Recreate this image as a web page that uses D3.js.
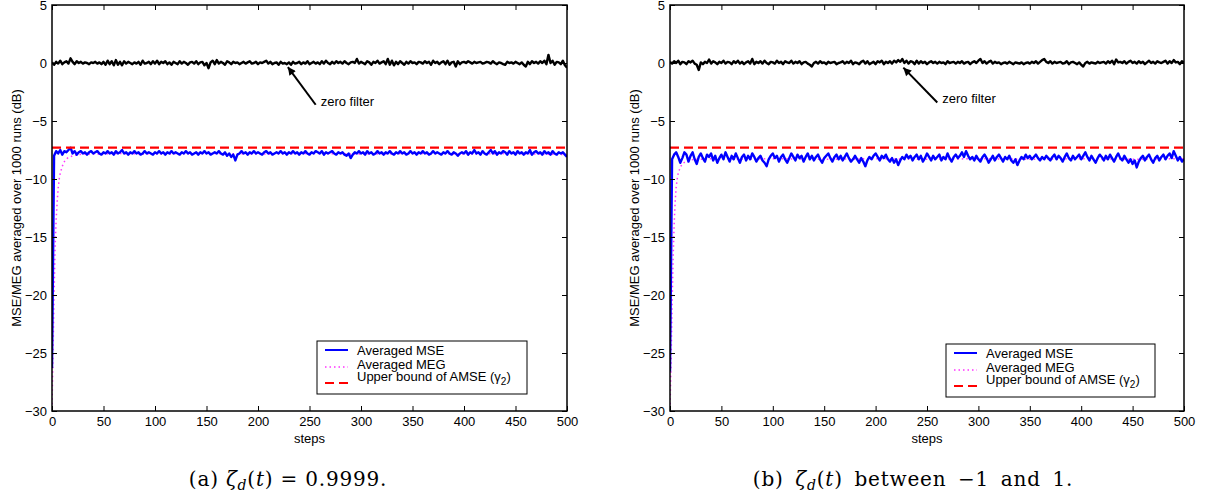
<!DOCTYPE html>
<html>
<head>
<meta charset="utf-8">
<script src="https://cdnjs.cloudflare.com/ajax/libs/d3/7.8.5/d3.min.js"></script>
<style>
body{margin:0;background:#fff;}
svg text{font-family:"Liberation Sans",Arial,sans-serif;}
</style>
</head>
<body>
<svg id="chart"></svg>
<script>
var sampleSteps = d3.range(0, 501, 2);
var megSteps = [0,1,2,3,4,5,6,7,8,10,12,15,20,25,30,40,60,100,150,200,250,300,350,400,450,500];

var xTicks = [0,50,100,150,200,250,300,350,400,450,500];
var yTicks = [-30,-25,-20,-15,-10,-5,0,5];

// (a) zeta = 0.9999
var zeroA = [0.05,-0.15,0.1,-0.05,0.2,-0.1,0.05,0.15,-0.05,0.4,
  0.1,-0.1,0.15,0.0,0.1,-0.05,0.05,0.0,-0.1,0.05,
  0.0,0.1,-0.05,0.05,-0.1,0.1,-0.15,0.2,-0.1,0.15,
  -0.2,0.25,-0.15,0.1,-0.2,0.15,-0.05,0.1,0.0,-0.1,
  0.05,-0.05,0.1,-0.15,0.2,-0.05,0.0,0.1,-0.1,0.15,
  -0.05,0.2,-0.1,0.1,0.0,0.15,-0.1,0.05,-0.15,0.1,
  0.0,-0.1,0.15,-0.05,0.1,0.0,-0.15,0.05,0.1,-0.05,
  0.15,-0.1,0.05,0.1,-0.2,0.0,-0.45,0.05,0.2,-0.1,
  0.25,-0.05,0.1,0.0,-0.15,0.15,0.05,-0.1,0.1,0.0,
  0.05,-0.1,0.0,0.1,-0.05,0.05,0.15,-0.05,0.0,0.1,
  -0.1,0.05,0.0,0.1,0.2,-0.05,0.1,-0.1,0.0,0.05,
  -0.15,0.1,-0.05,0.0,-0.1,0.05,-0.15,0.1,-0.05,0.0,
  0.1,-0.1,0.05,-0.05,0.15,-0.1,0.0,0.1,-0.05,0.05,
  -0.1,0.15,-0.05,0.2,0.0,-0.1,0.1,-0.05,0.15,0.0,
  0.1,-0.05,0.15,0.0,-0.1,0.05,0.1,0.0,0.35,-0.05,
  0.1,0.0,-0.1,0.15,0.05,-0.15,0.1,0.0,0.2,-0.05,
  0.05,0.15,-0.1,0.35,-0.15,0.2,-0.2,0.1,-0.1,0.15,
  0.0,-0.15,0.1,-0.05,0.15,0.0,0.05,-0.1,0.1,0.05,
  -0.05,0.15,0.0,0.1,-0.15,0.2,0.0,0.1,-0.1,0.05,
  0.15,-0.1,0.2,-0.15,0.05,0.1,-0.3,0.15,-0.1,0.05,
  0.1,0.0,0.15,0.05,-0.05,0.1,0.0,0.05,0.1,-0.05,
  0.0,0.1,0.05,-0.05,0.15,0.0,-0.1,0.05,0.0,-0.1,
  -0.15,0.1,0.0,0.05,-0.05,0.1,0.0,-0.1,0.05,-0.15,
  -0.3,0.1,-0.1,0.15,0.0,0.1,-0.05,0.15,0.0,0.2,
  -0.1,0.7,0.0,0.2,-0.15,0.1,0.05,-0.1,0.2,-0.2,
  -0.4];
var mseA = [-26.3,-8.0,-7.6,-7.8,-7.5,-7.9,-7.6,-7.7,-7.5,-7.3,
  -7.8,-7.6,-7.9,-7.7,-7.6,-7.8,-7.7,-7.9,-7.7,-7.6,
  -7.8,-7.7,-7.6,-7.8,-7.9,-7.7,-7.8,-7.6,-7.8,-7.7,
  -7.9,-7.6,-7.8,-7.7,-7.5,-7.8,-7.7,-7.9,-7.7,-7.8,
  -7.6,-7.8,-7.7,-7.9,-7.8,-7.6,-7.8,-7.7,-7.8,-7.9,
  -7.7,-7.8,-7.6,-7.8,-7.7,-7.9,-7.7,-7.8,-7.6,-7.8,
  -7.7,-7.8,-7.9,-7.7,-7.8,-7.6,-7.8,-7.7,-7.9,-7.8,
  -7.7,-7.9,-7.7,-7.8,-7.6,-7.8,-7.7,-7.9,-7.8,-7.7,
  -7.8,-7.6,-7.8,-7.9,-7.7,-8.0,-7.8,-8.1,-7.9,-8.4,
  -7.9,-7.8,-7.6,-7.8,-7.7,-7.9,-7.7,-7.8,-7.6,-7.8,
  -7.7,-7.8,-7.9,-7.7,-7.6,-7.8,-7.7,-7.9,-7.8,-7.7,
  -7.8,-7.6,-7.8,-7.7,-7.9,-7.7,-7.8,-7.6,-7.8,-7.7,
  -7.9,-7.7,-7.8,-7.6,-7.8,-7.9,-7.7,-7.8,-7.6,-7.7,
  -7.8,-7.6,-7.9,-7.7,-7.8,-7.7,-7.6,-7.8,-7.9,-7.7,
  -7.8,-7.7,-7.9,-8.0,-7.8,-8.2,-7.9,-7.7,-7.8,-7.6,
  -7.8,-7.7,-7.9,-7.6,-7.8,-7.7,-7.9,-7.8,-7.6,-7.8,
  -7.7,-7.9,-7.7,-7.8,-7.6,-7.8,-7.9,-7.7,-7.8,-7.6,
  -7.8,-7.7,-7.9,-7.8,-7.6,-7.8,-7.7,-7.9,-7.7,-7.8,
  -7.6,-7.8,-7.7,-7.9,-7.8,-7.6,-7.8,-7.7,-7.8,-7.9,
  -7.7,-7.8,-7.6,-7.8,-7.9,-7.7,-7.8,-8.0,-7.8,-7.7,
  -7.8,-7.6,-7.9,-7.7,-7.8,-7.5,-7.8,-7.7,-7.9,-7.6,
  -7.8,-7.9,-7.7,-7.5,-7.8,-7.6,-7.9,-7.7,-7.8,-7.6,
  -7.7,-7.9,-7.6,-7.8,-7.7,-7.9,-7.6,-7.8,-7.7,-7.9,
  -7.7,-7.8,-7.5,-7.9,-7.7,-7.6,-7.8,-7.7,-7.9,-7.6,
  -7.8,-7.7,-7.9,-7.6,-7.8,-7.9,-7.7,-7.8,-7.7,-7.9,
  -8.1];
var megA = [-29.8,-25,-20,-16,-13.5,-12,-10.8,-10,-9.5,-8.9,-8.5,-8.2,-8.0,-7.9,-7.85,-7.85,-7.8,-7.85,-7.8,-7.85,-7.8,-7.85,-7.8,-7.85,-7.8,-7.9];
var boundA = -7.3;

// (b) zeta between -1 and 1
var zeroB = [0.1,-0.05,0.15,0.0,0.2,-0.1,0.1,0.05,-0.1,0.15,
  0.05,0.2,-0.05,-0.15,-0.6,0.05,-0.1,0.1,0.0,0.3,
  -0.05,0.15,0.05,-0.1,0.1,0.0,0.2,-0.05,0.1,0.05,
  -0.1,0.15,0.0,0.2,-0.05,0.1,-0.1,0.05,0.15,-0.05,
  0.35,-0.1,0.1,0.0,0.15,-0.05,0.2,0.0,-0.1,0.1,
  0.05,-0.05,0.2,0.0,0.1,-0.1,0.15,0.05,0.0,0.2,
  -0.05,0.1,0.0,0.15,-0.1,0.05,0.1,-0.05,-0.15,-0.3,
  0.0,0.1,-0.05,0.15,0.0,0.05,-0.1,0.1,0.0,0.05,
  0.1,-0.1,0.0,0.05,0.15,-0.05,0.1,0.0,0.2,-0.1,
  0.05,0.0,-0.1,0.1,0.2,-0.05,0.15,-0.1,0.0,0.1,
  -0.1,0.15,0.05,0.2,-0.1,0.1,0.0,0.15,-0.05,0.2,
  0.05,0.25,0.1,0.35,0.0,0.2,-0.05,0.15,0.1,-0.1,
  0.2,-0.05,0.15,0.0,0.1,-0.1,0.05,0.15,0.0,0.1,
  -0.05,0.1,0.0,0.05,-0.1,0.15,0.0,0.05,0.1,-0.05,
  0.1,0.0,0.15,-0.05,0.05,0.1,-0.1,0.05,0.15,0.0,
  0.2,0.35,0.0,0.15,-0.05,0.1,0.2,-0.05,0.1,0.0,
  0.05,-0.1,0.0,0.05,-0.05,0.1,0.0,-0.1,0.05,0.0,
  -0.05,0.05,-0.1,0.0,0.05,-0.05,0.1,0.0,0.15,-0.05,
  0.1,0.25,0.35,0.1,0.0,0.15,-0.05,0.1,0.0,0.05,
  0.1,-0.05,0.0,0.15,-0.1,0.05,0.1,0.0,-0.1,0.05,
  -0.15,-0.3,0.0,0.1,-0.05,0.05,0.0,-0.05,0.1,0.0,
  0.05,0.1,-0.05,0.15,0.0,0.2,-0.1,0.3,0.05,0.1,
  0.0,0.15,-0.05,0.1,0.2,0.0,0.1,-0.05,0.15,0.0,
  0.1,-0.1,0.05,0.2,0.0,0.1,-0.05,0.15,0.05,0.0,
  0.1,0.2,-0.05,0.15,0.0,0.25,0.05,0.1,-0.1,0.15,
  0.05];
var mseB = [-26.6,-8.3,-7.9,-7.7,-8.1,-8.6,-8.2,-7.7,-7.9,-8.5,
  -8.0,-7.7,-8.3,-8.7,-8.1,-7.8,-8.2,-8.5,-7.9,-8.1,
  -7.8,-8.4,-8.0,-8.6,-8.2,-7.9,-8.3,-7.7,-8.1,-8.5,
  -8.0,-8.3,-7.8,-8.2,-8.6,-8.1,-7.9,-8.4,-8.0,-8.3,
  -7.8,-8.1,-8.5,-8.2,-8.0,-8.4,-8.6,-8.9,-8.3,-8.0,
  -7.8,-8.2,-8.0,-8.5,-8.1,-7.9,-8.3,-8.6,-8.2,-7.8,
  -8.1,-8.4,-7.9,-8.2,-8.0,-8.5,-8.1,-7.8,-8.3,-8.0,
  -8.4,-8.1,-7.9,-8.3,-8.6,-8.2,-8.0,-7.8,-8.2,-8.5,
  -8.1,-7.9,-8.3,-8.0,-8.4,-8.1,-7.8,-8.2,-8.5,-8.3,
  -8.0,-8.3,-8.6,-8.2,-8.5,-8.9,-8.4,-8.1,-8.3,-8.0,
  -7.8,-8.1,-8.4,-8.0,-8.2,-7.9,-8.3,-8.5,-8.2,-8.6,
  -8.3,-8.8,-8.4,-8.1,-8.3,-7.9,-8.2,-8.0,-8.4,-8.1,
  -7.9,-8.3,-8.0,-8.5,-8.2,-7.8,-8.1,-8.4,-8.0,-8.3,
  -8.1,-7.9,-8.4,-8.1,-8.3,-7.8,-8.2,-8.5,-8.1,-7.9,
  -8.2,-8.0,-7.7,-8.1,-7.6,-8.0,-8.3,-8.1,-8.4,-8.0,
  -8.3,-8.5,-8.1,-7.9,-8.2,-8.6,-8.3,-8.0,-8.4,-8.1,
  -7.9,-8.2,-8.5,-8.1,-8.3,-8.0,-8.4,-8.6,-8.3,-8.8,
  -8.4,-8.1,-8.3,-7.9,-8.2,-8.0,-8.3,-8.1,-7.9,-8.2,
  -8.4,-8.1,-8.3,-8.0,-8.2,-8.4,-8.1,-7.9,-8.3,-8.0,
  -8.2,-8.5,-8.1,-7.8,-8.2,-8.4,-8.0,-8.3,-8.1,-7.9,
  -8.3,-8.0,-7.7,-8.1,-8.4,-8.0,-8.3,-8.6,-8.2,-7.9,
  -8.1,-8.4,-8.0,-8.3,-7.9,-8.2,-8.5,-8.1,-7.8,-8.2,
  -8.4,-8.0,-8.3,-8.6,-8.3,-8.7,-8.4,-9.0,-8.5,-8.2,
  -8.0,-8.4,-8.1,-7.9,-8.3,-8.6,-8.2,-8.0,-8.4,-8.1,
  -7.9,-8.3,-8.0,-7.8,-8.2,-7.6,-8.0,-8.4,-8.1,-8.5,
  -8.3];
var megB = [-29.8,-26,-21,-17,-14,-12,-10.7,-10,-9.5,-9.0,-8.7,-8.5,-8.35,-8.3,-8.3,-8.25,-8.3,-8.25,-8.3,-8.25,-8.3,-8.25,-8.3,-8.25,-8.3,-8.25];
var boundB = -7.3;

var legendLabels = ["Averaged MSE","Averaged MEG","Upper bound of AMSE ("];

var screen = {width:1205, height:504};

var svg = d3.select("#chart")
            .attr("width",screen.width)
            .attr("height",screen.height);

var panels = [
  {id:"a", left:52, right:567, top:5, bottom:411, zero:zeroA, mse:mseA, meg:megA, bound:boundA,
   legendX:317, legendY:341, legendW:210, arrowTo:[229,-0.35], arrowFrom:[256,-3.6],
   captionX:288, captionTail:") = 0.9999.", wordSpacing:0},
  {id:"b", left:670, right:1184, top:5, bottom:411, zero:zeroB, mse:mseB, meg:megB, bound:boundB,
   legendX:946, legendY:344, legendW:209, arrowTo:[227,-0.4], arrowFrom:[260,-3.4],
   captionX:913, captionTail:") between \u22121 and 1.", wordSpacing:4.5}
];

svg.append("defs").append("marker")
   .attr("id","arrowhead")
   .attr("viewBox","0 0 10 10")
   .attr("refX",10)
   .attr("refY",5)
   .attr("markerWidth",11)
   .attr("markerHeight",8)
   .attr("markerUnits","userSpaceOnUse")
   .attr("orient","auto")
   .append("path")
   .attr("d","M0,0 L10,5 L0,10 z")
   .attr("fill","black");

var drawPanel = function(p)
{
  var xScale = d3.scaleLinear()
                 .domain([0,500])
                 .range([p.left,p.right]);
  var yScale = d3.scaleLinear()
                 .domain([-30,5])
                 .range([p.bottom,p.top]);

  var g = svg.append("g").attr("id","panel"+p.id);

  g.append("clipPath")
   .attr("id","clip"+p.id)
   .append("rect")
   .attr("x",p.left)
   .attr("y",p.top)
   .attr("width",p.right-p.left)
   .attr("height",p.bottom-p.top);

  var plot = g.append("g").attr("clip-path","url(#clip"+p.id+")");

  var line = d3.line()
               .x(function(d){return xScale(d[0]);})
               .y(function(d){return yScale(d[1]);});

  // zero filter
  var zeroData = sampleSteps.map(function(s,i){return [s,p.zero[i]];});
  plot.append("path")
      .attr("d",line(zeroData))
      .attr("fill","none")
      .attr("stroke","black")
      .attr("stroke-width",2.4)
      .attr("stroke-linejoin","round");

  // MEG (dotted, under the MSE)
  var megData = megSteps.map(function(s,i){return [s,p.meg[i]];});
  plot.append("path")
      .attr("d",line(megData))
      .attr("fill","none")
      .attr("stroke","#ff33ff")
      .attr("stroke-width",1.5)
      .attr("stroke-dasharray","1.5,3");

  // MSE
  var mseData = sampleSteps.map(function(s,i){return [s,p.mse[i]];});
  plot.append("path")
      .attr("d",line(mseData))
      .attr("fill","none")
      .attr("stroke","#0000ff")
      .attr("stroke-width",2.4)
      .attr("stroke-linejoin","round");

  // upper bound
  plot.append("path")
      .attr("d",line([[0,p.bound],[500,p.bound]]))
      .attr("fill","none")
      .attr("stroke","#ff0000")
      .attr("stroke-width",2.2)
      .attr("stroke-dasharray","9,5");

  // axes with inward ticks on all sides
  var xAxis = d3.axisBottom(xScale).tickValues(xTicks).tickSizeInner(-5).tickSizeOuter(0).tickPadding(6);
  var yAxis = d3.axisLeft(yScale).tickValues(yTicks).tickSizeInner(-5).tickSizeOuter(0).tickPadding(5);
  var xTop = d3.axisTop(xScale).tickValues(xTicks).tickSizeInner(-5).tickSizeOuter(0).tickFormat("");
  var yRight = d3.axisRight(yScale).tickValues(yTicks).tickSizeInner(-5).tickSizeOuter(0).tickFormat("");

  g.append("g").attr("transform","translate(0,"+p.bottom+")").call(xAxis);
  g.append("g").attr("transform","translate("+p.left+",0)").call(yAxis);
  g.append("g").attr("transform","translate(0,"+p.top+")").call(xTop);
  g.append("g").attr("transform","translate("+p.right+",0)").call(yRight);

  g.selectAll(".domain").remove();
  g.selectAll(".tick line").attr("stroke","black").attr("stroke-width",1);
  g.selectAll(".tick text")
   .attr("fill","black")
   .style("font-size","13px")
   .style("font-family","'Liberation Sans',Arial,sans-serif");

  g.append("rect")
   .attr("x",p.left)
   .attr("y",p.top)
   .attr("width",p.right-p.left)
   .attr("height",p.bottom-p.top)
   .attr("fill","none")
   .attr("stroke","black")
   .attr("stroke-width",1.5);

  // axis labels
  g.append("text")
   .attr("x",(p.left+p.right)/2)
   .attr("y",p.bottom+32)
   .attr("text-anchor","middle")
   .style("font-size","13px")
   .text("steps");

  g.append("text")
   .attr("transform","translate("+(p.left-31)+","+((p.top+p.bottom)/2)+") rotate(-90)")
   .attr("text-anchor","middle")
   .style("font-size","13px")
   .text("MSE/MEG averaged over 1000 runs (dB)");

  // zero filter annotation
  g.append("line")
   .attr("x1",xScale(p.arrowFrom[0]))
   .attr("y1",yScale(p.arrowFrom[1]))
   .attr("x2",xScale(p.arrowTo[0]))
   .attr("y2",yScale(p.arrowTo[1]))
   .attr("stroke","black")
   .attr("stroke-width",2)
   .attr("marker-end","url(#arrowhead)");
  g.append("text")
   .attr("x",xScale(p.arrowFrom[0])+5)
   .attr("y",yScale(p.arrowFrom[1])+1)
   .style("font-size","13px")
   .text("zero filter");

  // legend
  var lg = g.append("g").attr("transform","translate("+p.legendX+","+p.legendY+")");
  lg.append("rect")
    .attr("width",p.legendW)
    .attr("height",53)
    .attr("fill","white")
    .attr("stroke","black")
    .attr("stroke-width",1);
  var styles = [
    {color:"#0000ff", dash:null, y:9, width:2},
    {color:"#ff33ff", dash:"1.5,3", y:26, width:1.5},
    {color:"#ff0000", dash:"9,5", y:42, width:2}
  ];
  var textY = [14,28,40];
  lg.selectAll("line.key")
    .data(styles)
    .enter()
    .append("line")
    .attr("class","key")
    .attr("x1",8)
    .attr("x2",31)
    .attr("y1",function(d){return d.y;})
    .attr("y2",function(d){return d.y;})
    .attr("stroke",function(d){return d.color;})
    .attr("stroke-width",function(d){return d.width;})
    .attr("stroke-dasharray",function(d){return d.dash;});
  var labels = lg.selectAll("text.key")
    .data(legendLabels)
    .enter()
    .append("text")
    .attr("class","key")
    .attr("x",40)
    .attr("y",function(d,i){return textY[i];})
    .style("font-size","13px")
    .text(function(d){return d;});
  var last = d3.select(labels.nodes()[2]);
  last.append("tspan").text("\u03b3");
  last.append("tspan").attr("dy",4).style("font-size","10px").text("2");
  last.append("tspan").attr("dy",-4).text(")");

  // caption
  var cap = g.append("text")
    .attr("x",p.captionX)
    .attr("y",486)
    .attr("text-anchor","middle")
    .style("font-family","'DejaVu Serif','Liberation Serif',serif")
    .style("font-size","20px")
    .style("letter-spacing","0.8px")
    .style("word-spacing",p.wordSpacing+"px");
  cap.append("tspan").text("("+p.id+") ");
  cap.append("tspan").style("font-style","italic").text("\u03b6");
  cap.append("tspan").attr("dy",4).style("font-size","14px").style("font-style","italic").text("d");
  cap.append("tspan").attr("dy",-4).text("(");
  cap.append("tspan").style("font-style","italic").text("t");
  cap.append("tspan").text(p.captionTail);
}

panels.forEach(function(p){
  drawPanel(p);
});
</script>
</body>
</html>
